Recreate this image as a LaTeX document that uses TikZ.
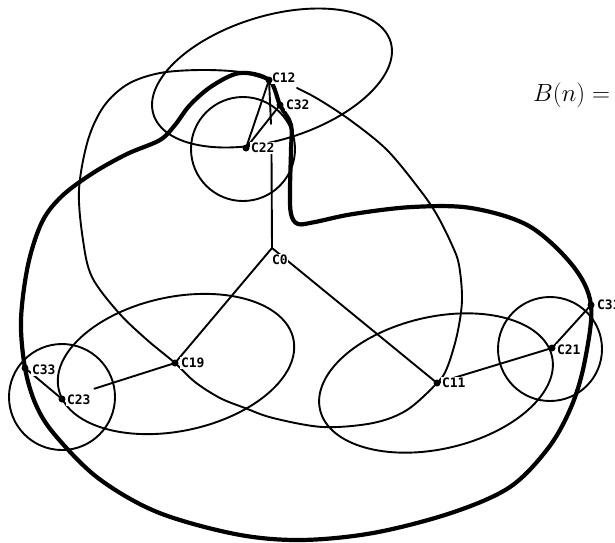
\documentclass[tikz,border=0pt]{standalone}
\usepackage{fontspec}
\newfontfamily\lblfont{DejaVu Sans Mono}
\usetikzlibrary{calc}
\begin{document}
\begin{tikzpicture}[x=1pt,y=-1pt,
  thinline/.style={line width=1.9pt, line join=round, line cap=round},
  thickline/.style={line width=4.2pt, line join=round, line cap=round},
  dot/.style={circle, fill=black, inner sep=0pt, minimum size=7pt},
  lab/.style={font=\lblfont\bfseries\fontsize{13}{14}\selectfont, fill=white, inner sep=0.8pt, anchor=west}]
\useasboundingbox (0,0) rectangle (615,542);
% positions
\coordinate (C12) at (269,80);
\coordinate (C32) at (280,105);
\coordinate (C22) at (246,148);
\coordinate (C0) at (272,248);
\coordinate (C19) at (175,363);
\coordinate (C33) at (25,368);
\coordinate (C23) at (62,399);
\coordinate (C11) at (437,383);
\coordinate (C21) at (552,348);
\coordinate (C31) at (591,305);
\coordinate (gapA) at (271,124);
\coordinate (gapB) at (271.5,154);
\coordinate (loopEnd) at (297,88);
% clusters
\draw[thinline, rotate around={17:(272,78)}] (272,78) ellipse [x radius=124, y radius=62];
\draw[thinline] (243,149) circle [radius=52];
\draw[thinline, rotate around={12:(176,364)}] (176,364) ellipse [x radius=120, y radius=67];
\draw[thinline] (62,397) circle [radius=53];
\draw[thinline, rotate around={13:(436,383)}] (436,383) ellipse [x radius=119, y radius=66];
\draw[thinline] (550,349) circle [radius=52];
% big thin loop through C12, C19, C11
\draw[thinline] plot[smooth, tension=0.55] coordinates {(C12) (240,72) (200,70) (160,73) (128,84) (104,106) (88,140) (79,190) (83,240) (92,277) (118,312) (146,339) (C19) (195,382) (220,398) (245,408) (273,418) (323,427) (373,423) (407,410) (C11) (447,368) (457,335) (462,300) (459,265) (452,245) (437,215) (420,190) (387,150) (350,120) (318,99) (loopEnd)};
% thick loop through C12, C32, C33, C31
\draw[thickline] plot[smooth cycle, tension=0.55] coordinates {(C12) (240,73) (212,86) (190,105) (175,125) (160,140) (127,154) (93,173) (62,196) (42,222) (28,265) (21,320) (C33) (36,405) (55,435) (98,478) (157,512) (235,534) (300,540) (373,533) (451,513) (510,487) (549,447) (572,405) (585,360) (C31) (573,266) (529,226) (471,208) (412,207) (353,214) (315,222) (298,224) (291,214) (290,190) (291,150) (291,125) (C32)};
% tree edges
\draw[thinline] (C12) -- (gapA);
\draw[thinline] (gapB) -- (C0);
\draw[thinline] (C0) -- (C19);
\draw[thinline] (C0) -- (C11);
\draw[thinline] (C12) -- (C22);
\draw[thinline] (C32) -- (C22);
\draw[thinline, shorten >=34pt] (C19) -- (C23);
\draw[thinline] (C23) -- (C33);
\draw[thinline] (C11) -- (C21);
\draw[thinline] (C21) -- (C31);
% labels
\node[lab] (C12l) at (271,78) {C12};
\node[lab] (C32l) at (285,105) {C32};
\node[lab] (C22l) at (250,148) {C22};
\node[lab] (C0l) at (271,260) {C0};
\node[lab] (C19l) at (180,363) {C19};
\node[lab] (C33l) at (31,370) {C33};
\node[lab] (C23l) at (66,400) {C23};
\node[lab] (C11l) at (441,383) {C11};
\node[lab] (C21l) at (556,350) {C21};
\node[lab] (C31l) at (596,305) {C31};
% dots
\foreach \n in {C12,C32,C22,C19,C33,C23,C11,C21,C31}
  \node[dot] (\n d) at (\n) {};
% formula
\node[anchor=base west, inner sep=0pt, font=\fontsize{24}{28}\selectfont] (Bn) at (533,101) {$B(n) = 1$};
\end{tikzpicture}
\end{document}
